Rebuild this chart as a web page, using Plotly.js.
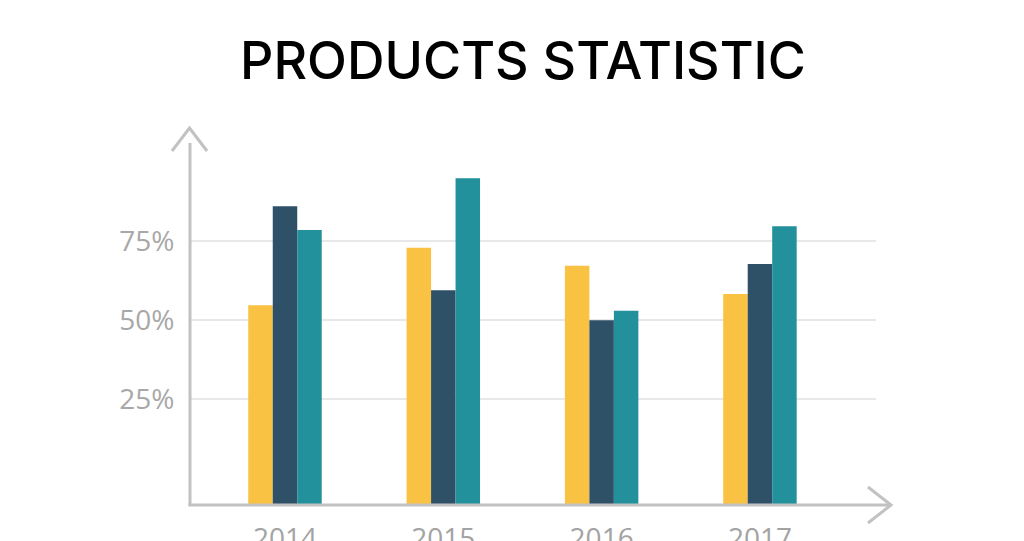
<!DOCTYPE html>
<html>
<head>
<meta charset="utf-8">
<script src="https://cdn.plot.ly/plotly-3.0.1.min.js"></script>
<style>
  html, body { margin: 0; padding: 0; background: #ffffff; }
  #chart { width: 1024px; height: 541px; }
</style>
</head>
<body>
<div id="chart"></div>
<script>
// ---- data ----
const years = ['2014', '2015', '2016', '2017'];
const seriesA = [54.7, 72.8, 67.1, 58.2];   // yellow
const seriesB = [85.9, 59.4, 49.9, 67.7];   // dark blue
const seriesC = [78.4, 94.7, 52.9, 79.6];   // teal
const tickValues = [25, 50, 75];
const tickLabels = ['25%', '50%', '75%'];

// ---- layout constants ----
const W = 1024, H = 541;
const L = 190, R = 148, T = 130, B = 36;
const plotW = W - L - R, plotH = H - T - B;
const Y_MIN = -8.3, Y_MAX = 109.9;

const px = x => (x - L) / plotW;
const py = y => (H - B - y) / plotH;

const colors = ['#F9C242', '#2E5168', '#23919B'];

function mk(vals, color, name) {
  return {
    type: 'bar',
    name: name,
    x: years,
    y: vals.map(v => v - Y_MIN),
    base: Y_MIN,
    marker: { color: color, line: { width: 0 } },
    hoverinfo: 'skip'
  };
}

const data = [
  mk(seriesA, colors[0], 'A'),
  mk(seriesB, colors[1], 'B'),
  mk(seriesC, colors[2], 'C')
];

const axisColor = '#c2c2c2';
const shapes = [
  // y axis line
  { type: 'line', xref: 'paper', yref: 'paper', x0: 0, x1: 0, y0: py(506), y1: py(143),
    line: { color: axisColor, width: 3 } },
  // y arrow head
  { type: 'path', xref: 'paper', yref: 'paper',
    path: 'M ' + px(172) + ' ' + py(151) + ' L ' + px(189.5) + ' ' + py(128) + ' L ' + px(207) + ' ' + py(151),
    line: { color: axisColor, width: 3 } },
  // x axis line
  { type: 'line', xref: 'paper', yref: 'paper', x0: px(188.5), x1: px(890), y0: py(505), y1: py(505),
    line: { color: axisColor, width: 3 } },
  // x arrow head
  { type: 'path', xref: 'paper', yref: 'paper',
    path: 'M ' + px(868) + ' ' + py(487) + ' L ' + px(891) + ' ' + py(505) + ' L ' + px(868) + ' ' + py(523),
    line: { color: axisColor, width: 3 } }
];

const layout = {
  width: W, height: H,
  margin: { l: L, r: R, t: T, b: B, pad: 0 },
  paper_bgcolor: '#ffffff',
  plot_bgcolor: '#ffffff',
  showlegend: false,
  barmode: 'group',
  bargap: 0.536,
  bargroupgap: 0,
  title: {
    text: 'PRODUCTS STATISTIC',
    font: { family: 'Inter, "Open Sans", sans-serif', size: 52, color: '#000000', weight: 500 },
    x: px(523), xanchor: 'center', xref: 'paper',
    y: 1 - 61 / H, yanchor: 'middle', yref: 'container'
  },
  xaxis: {
    type: 'category',
    range: [-0.6, 3.733],
    showgrid: false,
    zeroline: false,
    showline: false,
    ticks: 'outside',
    ticklen: 8,
    tickcolor: 'rgba(0,0,0,0)',
    tickfont: { family: '"Open Sans", sans-serif', size: 28, color: '#a3a3a3' },
    fixedrange: true
  },
  yaxis: {
    range: [Y_MIN, Y_MAX],
    tickvals: tickValues,
    ticktext: tickLabels,
    showgrid: true,
    gridcolor: '#e8e8e8',
    gridwidth: 2,
    zeroline: false,
    showline: false,
    ticks: 'outside',
    ticklen: 9,
    tickcolor: 'rgba(0,0,0,0)',
    tickfont: { family: '"Open Sans", sans-serif', size: 28, color: '#a8a8a8' },
    fixedrange: true
  },
  shapes: shapes
};

Plotly.newPlot('chart', data, layout, { displayModeBar: false, staticPlot: true });
</script>
</body>
</html>
